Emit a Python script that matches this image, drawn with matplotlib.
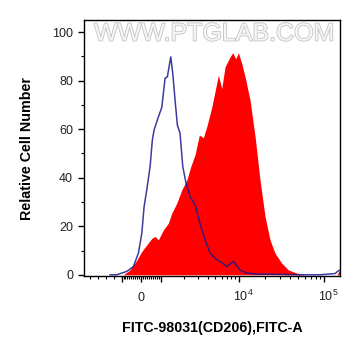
import numpy as np
import matplotlib
matplotlib.use("Agg")
import matplotlib.pyplot as plt
import matplotlib.patheffects as pe
import matplotlib.transforms as mtransforms

plt.rcParams['font.family'] = ['Liberation Sans', 'DejaVu Sans']
plt.rcParams['mathtext.fontset'] = 'custom'
plt.rcParams['mathtext.rm'] = 'Liberation Sans'
plt.rcParams['mathtext.it'] = 'Liberation Sans'

# ---- data (FITC intensity, relative cell number) ----
control_x = [-2440, -1600, -733, -395, -138, 36, 154, 292, 462, 579, 667, 887,
             1036, 1086, 1141, 1221, 1349, 1430, 1530, 1637, 1772, 1918, 2113,
             2376, 2751, 3185, 3688, 4272, 5199, 5728, 6972, 8461, 10275, 12320,
             16150, 27770, 52200, 89700, 134700, 146100, 154200]
control_y = [0, 0, 1.4, 3.4, 8.9, 17, 28, 35, 44.6, 55.6, 59.7, 65,
             69, 74.8, 81, 81.6, 89.8, 83, 72, 61.7, 58.3, 44.6, 37.7,
             32.2, 28.8, 21, 14.4, 8.9, 6.2, 5.5, 3.4, 5.5, 2, 0.7,
             0.3, 0.2, 0, 0, 0.5, 1.5, 2]

sample_x = [-908, -564, -220, 36, 292, 549, 718, 887, 1086, 1257, 1389, 1609,
            1862, 2157, 2425, 2751, 3121, 3510, 3877, 4489, 5199, 5449, 6020,
            6633, 7681, 8314, 9078, 9797, 10760, 11770, 13470, 15430, 17660,
            20220, 23150, 26510, 31800, 38020, 47740, 59770, 142200, 150200, 154200]
sample_y = [0, 2, 6, 9.6, 12.3, 15, 15.8, 14.4, 18.5, 21.3, 25.4, 29.5,
            35, 39, 44.6, 49.5, 57.6, 56.5, 61, 69, 79, 82.3, 76.8,
            85.7, 89.8, 91.5, 89, 91.5, 87, 81.6, 72, 57, 39,
            24, 14.4, 8.9, 4.8, 2, 0.7, 0, 0, 1.5, 2]

y_ticks = [0, 20, 40, 60, 80, 100]
x_major = [-1000, 0, 1000, 10000, 100000]
x_labels = ['', '0', '', r'$\mathregular{10^4}$', r'$\mathregular{10^5}$']
x_minor = ([-5000, -4000, -3000, -2000] + list(range(-900, 0, 100)) +
           list(range(100, 1000, 100)) + list(range(2000, 10000, 1000)) +
           list(range(20000, 100000, 10000)))


# ---- biexponential-like display transform ----
def fwd(x):
    x = np.asarray(x, dtype=float)
    with np.errstate(all='ignore'):
        xs = np.maximum(x, 1e-9)
        neg = 121.5 + 0.008 * (x + 1000)
        lin = 141 + 0.0195 * x
        mid = 160.5 + 78.5 * np.log10(np.maximum(xs / 1000, 1e-12))
        hi = 239 + 85 * np.log10(np.maximum(xs / 1e4, 1e-12))
        return np.where(x < -1000, neg, np.where(x <= 1000, lin,
                        np.where(x <= 1e4, mid, hi)))


def inv(p):
    p = np.asarray(p, dtype=float)
    with np.errstate(all='ignore'):
        a = -1000 + (p - 121.5) / 0.008
        b = (p - 141) / 0.0195
        c = 1000 * 10 ** ((np.minimum(p, 400) - 160.5) / 78.5)
        d = 1e4 * 10 ** ((np.minimum(p, 400) - 239) / 85)
        return np.where(p < 121.5, a, np.where(p <= 160.5, b,
                        np.where(p <= 239, c, d)))


fig = plt.figure(figsize=(3.61, 3.56), dpi=100)
ax = fig.add_axes([84 / 361, 80 / 356, 256 / 361, 256 / 356])
ax.set_xscale('function', functions=(fwd, inv))
ax.set_xlim(-5700, 154200)
ax.set_ylim(-0.5, 105)

ax.fill_between(sample_x, sample_y, 0, color='#ff0000', lw=0, zorder=2)
ax.plot(control_x, control_y, color='#1a1a8c', lw=1.1, alpha=0.85, zorder=3)

for s in ax.spines.values():
    s.set_color('black')
    s.set_linewidth(1.0)

ax.set_yticks(y_ticks)
ax.set_yticks(list(range(10, 100, 20)), minor=True)
ax.set_xticks(x_major)
ax.set_xticklabels(x_labels)
ax.set_xticks(x_minor, minor=True)
ax.tick_params(axis='both', which='major', length=4.3, width=1.0,
               labelsize=9, labelcolor='#222222', direction='out')
ax.tick_params(axis='both', which='minor', length=2.2, width=0.8, direction='out')
ax.tick_params(axis='y', which='major', pad=3.5)
ax.tick_params(axis='x', which='major', pad=14.0)
for lab, v in zip(ax.get_xticklabels(), x_major):
    lab.set_verticalalignment('baseline')
    if v >= 10000:
        lab.set_transform(lab.get_transform() +
                          mtransforms.ScaledTranslation(4 / 100, 0, fig.dpi_scale_trans))

fig.text(212 / 361, 1 - 328 / 356, 'FITC-98031(CD206),FITC-A', ha='center',
         va='center', fontsize=10.3, fontweight='bold')
fig.text(27 / 361, 1 - 148 / 356, 'Relative Cell Number', ha='center',
         va='center', rotation=90, fontsize=10.3, fontweight='bold')

ax.text(0.508, 0.947, 'WWW.PTGLAB.COM', transform=ax.transAxes, ha='center',
        va='center', fontsize=18, color='#f6f6f6', zorder=1,
        path_effects=[pe.withStroke(linewidth=1.2, foreground='#c4c4c4')])

fig.savefig('out.png', dpi=100, facecolor='white')
